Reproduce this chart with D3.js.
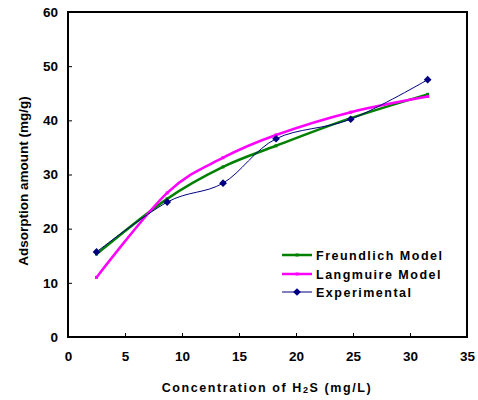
<!DOCTYPE html>
<html>
<head>
<meta charset="utf-8">
<script src="https://cdn.jsdelivr.net/npm/d3@7"></script>
<style>
  body { margin: 0; background: #fff; }
  text { fill: #000; }
</style>
</head>
<body>
<script>
'use strict';

// concentration of H2S (mg/L)
const concentration = [2.5, 8.7, 13.6, 18.25, 24.8, 31.55];
const freundlich = [15.3, 25.5, 31.4, 35.3, 40.4, 44.8];
const langmuir = [11.0, 26.6, 33.1, 37.3, 41.5, 44.4];
const experimental = [15.7, 24.9, 28.4, 36.6, 40.2, 47.5];
const xTicks = [0, 5, 10, 15, 20, 25, 30, 35];
const yTicks = [0, 10, 20, 30, 40, 50, 60];
const seriesNames = ["Freundlich Model", "Langmuire Model", "Experimental"];

(function() {
  const measurements = { width: 478, height: 400, left: 68, right: 467, top: 12, bottom: 337 };

  const svg = d3.select('body').append('svg')
    .attr('width', measurements.width)
    .attr('height', measurements.height);

  const xScale = d3.scaleLinear().domain([0, 35]).range([measurements.left, measurements.right]);
  const yScale = d3.scaleLinear().domain([0, 60]).range([measurements.bottom, measurements.top]);

  // frame
  svg.append('rect')
    .attr('x', measurements.left).attr('y', measurements.top)
    .attr('width', measurements.right - measurements.left)
    .attr('height', measurements.bottom - measurements.top)
    .attr('fill', 'none').attr('stroke', '#000').attr('stroke-width', 2);

  // axes with inside ticks
  const xAxis = svg.append('g')
    .attr('transform', `translate(0, ${measurements.bottom})`)
    .call(d3.axisBottom(xScale).tickValues(xTicks).tickSizeInner(-4).tickSizeOuter(0).tickPadding(14));
  const yAxis = svg.append('g')
    .attr('transform', `translate(${measurements.left}, 0)`)
    .call(d3.axisLeft(yScale).tickValues(yTicks).tickSizeInner(-4).tickSizeOuter(0).tickPadding(10));

  [xAxis, yAxis].forEach(g => {
    g.select('.domain').remove();
    g.selectAll('line').attr('stroke', '#000').attr('stroke-width', 1);
    g.selectAll('text')
      .style('font-family', 'Liberation Sans, Arial, sans-serif')
      .style('font-size', '13.5px')
      .style('font-weight', 'bold');
  });

  const line = vals => d3.line()
    .x((d, i) => xScale(concentration[i]))
    .y(d => yScale(d))
    .curve(d3.curveCatmullRom.alpha(0))(vals);

  const series = [
    { name: seriesNames[0], values: freundlich, color: '#008000', width: 2.5 },
    { name: seriesNames[1], values: langmuir, color: '#ff00ff', width: 2.5 },
    { name: seriesNames[2], values: experimental, color: '#000080', width: 1 }
  ];

  series.forEach(s => {
    svg.append('path')
      .attr('d', line(s.values))
      .attr('fill', 'none')
      .attr('stroke', s.color)
      .attr('stroke-width', s.width);
  });

  // small markers for the models, diamonds for experimental
  const diamond = d3.symbol().type(d3.symbolSquare).size(30);
  series.forEach((s, k) => {
    const g = svg.append('g');
    s.values.forEach((v, i) => {
      if (k < 2) {
        g.append('rect')
          .attr('x', xScale(concentration[i]) - 1.5).attr('y', yScale(v) - 1.5)
          .attr('width', 3).attr('height', 3).attr('fill', s.color);
      } else {
        g.append('path')
          .attr('d', diamond)
          .attr('transform', `translate(${xScale(concentration[i])}, ${yScale(v)}) rotate(45)`)
          .attr('fill', s.color);
      }
    });
  });

  // legend
  const legend = svg.append('g');
  const rows = [255, 274, 292];
  series.forEach((s, k) => {
    legend.append('line')
      .attr('x1', 282).attr('x2', 312).attr('y1', rows[k]).attr('y2', rows[k])
      .attr('stroke', s.color).attr('stroke-width', s.width);
    if (k < 2) {
      legend.append('rect').attr('x', 295.5).attr('y', rows[k] - 1.5)
        .attr('width', 3).attr('height', 3).attr('fill', s.color);
    } else {
      legend.append('path').attr('d', diamond)
        .attr('transform', `translate(297, ${rows[k]}) rotate(45)`).attr('fill', s.color);
    }
    legend.append('text')
      .attr('x', 316).attr('y', rows[k] + 4.5)
      .style('font-family', 'Liberation Sans, Arial, sans-serif')
      .style('font-size', '12.5px')
      .style('font-weight', 'bold')
      .style('letter-spacing', '1.5px')
      .text(s.name);
  });

  // axis titles
  svg.append('text')
    .attr('transform', `translate(28, 181) rotate(-90)`)
    .attr('text-anchor', 'middle')
    .style('font-family', 'Liberation Sans, Arial, sans-serif')
    .style('font-size', '13.5px')
    .style('font-weight', '600')
    .text('Adsorption amount (mg/g)');

  const xt = svg.append('text')
    .attr('x', 267).attr('y', 392)
    .attr('text-anchor', 'middle')
    .style('font-family', 'Liberation Sans, Arial, sans-serif')
    .style('font-size', '12.5px')
    .style('font-weight', 'bold')
    .style('letter-spacing', '1.6px');
  xt.append('tspan').text('Concentration of H');
  xt.append('tspan').style('font-size', '9px').attr('dy', 1).text('2');
  xt.append('tspan').attr('dy', -1).text('S (mg/L)');
})();
</script>
</body>
</html>
